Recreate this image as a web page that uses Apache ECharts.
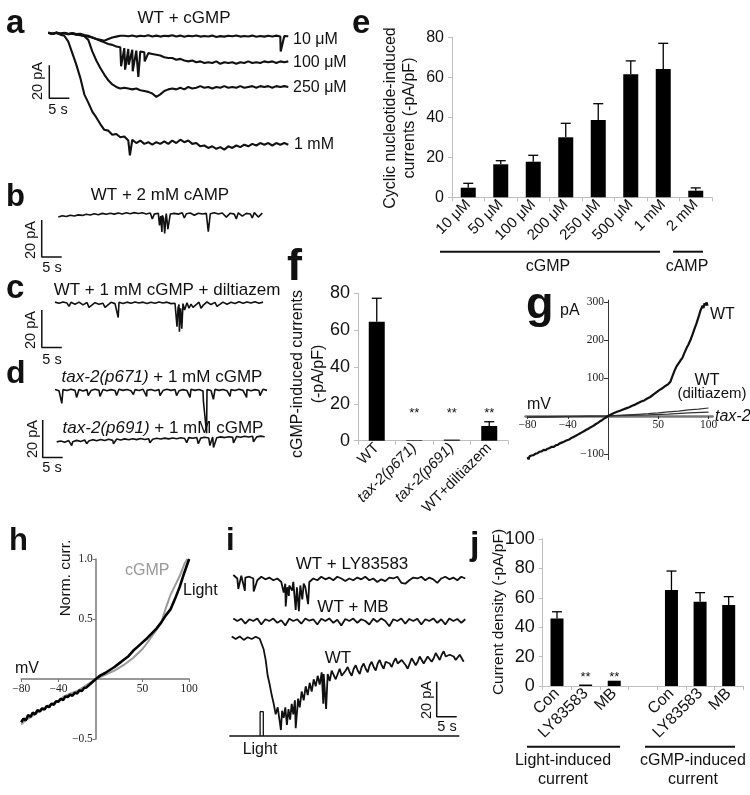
<!DOCTYPE html>
<html>
<head>
<meta charset="utf-8">
<title>cGMP / light-induced currents</title>
<script src="https://cdn.jsdelivr.net/npm/echarts@6/dist/echarts.min.js"></script>
<style>
  html, body { margin: 0; padding: 0; background: #fff; }
  #fig { width: 750px; height: 795px; }
</style>
</head>
<body>
<div id="fig"></div>
<script>
const SANS = '"Liberation Sans", Arial, sans-serif'
const SERIF = '"Liberation Serif", "Times New Roman", serif'

// ---- a: WT + cGMP, current (pA) sampled every 1 s ----
const a10uM = [0.3,-0.2,0.2,-0.4,0,-0.5,-0.3,-0.8,-1,-1.5, -2,-2.5,-3.5,-4,-4.5,-3.5,-2.5,-2,-1.5,-1.5,
  -1.8,-1.3,-2,-1.5,-1.8,-1.2,-1.9,-1.4,-2,-1.5, -1.7,-1.2,-1.9,-1.4,-2.1,-1.5,-1.8,-1.3,-2,-1.6,
  -1.9,-1.4,-2.2,-1.7,-2,-1.5,-1.8,-1.3,-2,-1.6, -1.9,-1.4,-2.1,-1.6,-2,-1.5,-1.9,-1.4,-2,-1.6,-1.8]
const a100uM = [0.2,-0.3,0.4,-0.2,0.3,-0.4,0.1,-0.5,-0.3,-1, -1.5,-2.5,-3.5,-4.5,-5.5,-6.5,-7,-8,-8.5,-9,
  -9.5,-10,-10.5,-11,-11.5,-12,-12.5,-13,-13.5,-14.5, -15,-15,-16,-15.5,-16.5,-17,-16.5,-17.5,-17,-18,
  -17.5,-18,-17,-18.5,-17.5,-18,-17.5,-18.5,-17.5,-18, -17,-18,-17.5,-18,-17,-17.5,-17,-18,-17,-17.5,-17]
const a250uM = [0.3,-0.4,0.5,-0.3,0.2,-0.5,0,-0.8,-1.2,-1.8, -4,-11,-16.5,-21,-25,-28.5,-31,-32.5,-33.5,-33,
  -33.5,-34,-33.5,-34.5,-35,-35.5,-36.5,-38.5,-37,-35, -34,-33.5,-34,-33,-34,-32.5,-33.5,-33,-32,-33,
  -32.5,-33.5,-32.5,-33,-32,-33,-32.5,-33,-32,-33, -32.5,-32,-33,-32,-32.5,-32,-33,-32,-32.5,-32,-32.5]
const a1mM = [0.5,-0.5,0.3,-0.8,-1.5,-5,-12,-19,-27,-37, -42,-47.5,-51,-55,-58.5,-59,-61.5,-61,-63,-62.5,
  -65,-64.5,-66.5,-65,-67,-66,-67.5,-66,-67,-65.5, -67,-65,-66.5,-64.5,-66,-65,-67,-66.5,-68.5,-68,
  -69.5,-68.5,-70,-69,-70.5,-68.5,-69.5,-68,-69,-67.5, -68.5,-67,-68,-66.5,-67.5,-66.5,-68,-66.5,-67.5,-66.5,-67.5]
const a10uMSpikes = [[58.1, -11]]
const a100uMSpikes = [[18.2, -20], [19.2, -22], [20.1, -19], [21.1, -23], [22.5, -26.5], [24.1, -17]]
const a1mMSpikes = [[20.4, -74]]

// ---- b: WT + 2 mM cAMP ----
const bTrace = [-1.5,-0.8,-1.2,-0.5,-0.9,-0.3,-0.6,0,-0.4,0.3, -0.2,0.5,0,0.6,0.1,0.7,0.2,0.8,0.3,0.9,
  0.4,0.8,0.2,0.7,0.1,0.6,-0.5,0.4,0.2,0.5, 0.1,0.8,0.3,0.7,-0.5,0.6,0.2,0.5,0.3,0.8,
  0.2,0.7,-1.5,0.6,0.1,0.8,-1,0.5,0.2,0.9, -1.5,0.6]
const bSpikes = [[23.5, -2.5], [25.3, -6], [25.6, -1], [25.9, -9.5], [26.3, -2], [26.6, -10.3], [26.9, -1],
  [27.4, -8], [31.5, -2], [37.5, -9.4], [44.5, -2.5], [48.5, -2]]

// ---- c: WT + 1 mM cGMP + diltiazem ----
const cTrace = [0.3,-0.3,0.4,-0.2,0.2,-0.8,0.3,-1.2,0.1,-1.5, 0,-0.8,-0.3,-1.5,0.2,-0.5,0.2,-0.4,0.3,-0.3,
  0.4,-0.2,0.3,-0.4,0.2,-0.3,0.4,-0.2,0.3,-0.5, -0.3,-1,-0.5,0,-0.8,-1.5,0.3,-1.5,0.4,-1,
  0.2,-1.5,0.3,-0.8,0.2,-0.4,0.5,-0.3,0.4,-0.2, 0.5,-0.3,0.3]
const cSpikes = [[3.5, -2], [8.5, -2.5], [12.5, -2.5], [15.8, -8], [30.5, -13], [30.75, -3], [31.1, -15.7],
  [31.4, -3], [31.7, -14], [32.4, -4], [33.5, -3], [34.5, -2.5], [36.5, -3], [40.5, -2]]

// ---- d: tax-2 mutants + 1 mM cGMP ----
const dP671 = [0.3,-0.4,0.2,-0.3,0.4,-0.2,0.3,-0.5,0.2,-0.3, 0.4,-0.2,0.3,-0.4,0.2,-0.3,0.4,-0.2,0.3,-0.4,
  0.2,-0.3,0.4,-0.2,0.3,-0.4,0.2,-0.3,0.4,-0.2, 0.3,-0.4,0.2,-0.3,0.4,-0.2,0.3,-0.5,0.2,-0.3,
  0.4,-0.2,0.3,-0.4,0.2,-0.3,0.4,-0.2,0.3,-0.4, 0.2,-0.3,0.4,-0.2]
const dP671Spikes = [[1.7, -7.2], [5.4, -4], [8.3, -3], [11.25, -3.5], [15.4, -3], [19.6, -2.5], [22.9, -3.5],
  [26.25, -3], [30.4, -3], [33.75, -4], [37.1, -6], [37.9, -23.4], [39.6, -5], [43.75, -3.5], [47.9, -4], [51.25, -3]]
const dP691 = [-1,-0.5,-1.2,-0.3,-0.9,-0.2,-0.8,0,-0.6,0.2, -0.4,0.3,-0.3,0.4,-0.2,0.5,0,0.6,0.1,0.7,
  0.2,0.8,0.3,0.7,0.4,0.9,0.5,1,0.6,1.1, 0.7,1.2,0.8,1.3,0.9,1.4,1,1.5,1.1,1.6,
  1.2,1.7,1.3,1.8,1.4,1.9,1.5,2,1.6,2, 1.7,2.1,1.8]
const dP691Spikes = [[3.75, -3], [7.5, -2], [14.2, -2], [23.3, -1.5], [32.5, -1.5], [35.4, -2], [38.3, -3],
  [39.2, -4], [44.2, -1.5], [49.2, -1]]

// ---- e: dose response (-pA/pF) ----
const eCats = ['10 μM', '50 μM', '100 μM', '200 μM', '250 μM', '500 μM', '1 mM', '2 mM']
const eMean = [4.8, 16.5, 17.8, 30, 38.7, 61.5, 64.2, 3.3]
const eErrTop = [7.0, 18.3, 21, 37, 46.8, 68.2, 77, 4.7]

// ---- f: genotypes (-pA/pF) ----
const fCats = ['WT', 'tax-2(p671)', 'tax-2(p691)', 'WT+diltiazem']
const fMean = [64.6, 0.3, 0.6, 8.0]
const fErrTop = [77.3, null, null, 10.3]
const fSig = [false, true, true, true]

// ---- g: I-V (mV, pA) ----
const gWT = [[-80,-108],[-79,-114],[-78,-106],[-77,-111],[-76,-104],[-75,-107],[-74,-103],[-72,-99],[-70,-98],
  [-68,-94],[-66,-93],[-64,-89],[-62,-90],[-60,-86],[-58,-84],[-56,-81],[-54,-81],[-52,-77],[-50,-76],
  [-48,-72],[-46,-70],[-44,-68],[-42,-65],[-40,-63],[-38,-61],[-36,-57],[-34,-55],[-32,-52],[-30,-49],
  [-28,-46],[-26,-43],[-24,-40],[-22,-37],[-20,-34],[-18,-31],[-16,-28],[-14,-25],[-12,-21],[-10,-18],
  [-8,-14],[-6,-11],[-4,-7],[-2,-4],[0,0],[3,4],[6,8],[9,11],[12,14],[15,17],[18,20],[21,23],[24,27],
  [27,30],[30,34],[33,38],[36,41],[39,46],[42,50],[45,56],[48,62],[51,68],[54,73],[57,79],[60,84],
  [62,90],[64,104],[66,118],[68,130],[70,138],[72,146],[74,153],[76,166],[78,178],[80,188],[82,200],
  [84,214],[86,229],[88,244],[90,260],[92,278],[94,290],[95,284],[96,297],[97,291],[98,299],[99,290]]
const gDiltiazem = [[-80,-4],[-60,-3],[-40,-2],[-20,-1],[0,0],[10,1.5],[20,3],[30,4.5],[40,6],[50,8],
  [60,11],[70,13],[80,16],[90,18],[100,21]]
const gTax2 = [[-80,-2],[-60,-1.5],[-40,-1],[-20,-0.5],[0,0],[20,1.5],[40,3],[60,5],[80,8],[100,10]]
const gXTicks = [-80, -40, 50, 100]
const gYTicks = [-100, 100, 200, 300]

// ---- h: normalised I-V ----
const hLight = [[-80,-0.36],[-77.5,-0.33],[-75,-0.345],[-72.5,-0.3],[-70,-0.315],[-67.5,-0.28],[-65,-0.295],
  [-62.5,-0.26],[-60,-0.27],[-57.5,-0.245],[-55,-0.255],[-52.5,-0.225],[-50,-0.235],[-47.5,-0.205],
  [-45,-0.215],[-42.5,-0.185],[-40,-0.19],[-37.5,-0.165],[-35,-0.175],[-32.5,-0.145],[-30,-0.15],
  [-27.5,-0.13],[-25,-0.14],[-22.5,-0.115],[-20,-0.12],[-17.5,-0.095],[-15,-0.1],[-12.5,-0.075],
  [-10,-0.07],[-5,-0.035],[0,0],[5,0.03],[10,0.05],[15,0.075],[20,0.1],[25,0.13],[30,0.16],[35,0.19],
  [40,0.235],[45,0.27],[50,0.305],[55,0.34],[60,0.38],[65,0.42],[70,0.47],[75,0.53],[80,0.58],
  [85,0.67],[90,0.77],[95,0.89],[100,1.0]]
const hCGMP = [[-80,-0.38],[-75,-0.34],[-70,-0.32],[-65,-0.29],[-60,-0.27],[-55,-0.24],[-50,-0.22],
  [-45,-0.2],[-40,-0.18],[-35,-0.15],[-30,-0.13],[-25,-0.115],[-20,-0.1],[-15,-0.075],[-10,-0.05],
  [-5,-0.025],[0,0],[10,0.035],[20,0.07],[30,0.117],[40,0.175],[50,0.25],[55,0.3],[60,0.355],
  [65,0.41],[70,0.47],[75,0.59],[80,0.7],[85,0.78],[90,0.86],[95,0.96],[98,1.0]]
const hXTicks = [-80, -40, 50, 100]
const hYTicks = [-0.5, 0.5, 1.0]

// ---- i: light responses, pA every 1 s ----
const iLY = [1,-1,0.5,-0.5,0,-1,-2,0,-1.5,-0.5, -2,-1,-3,-4,-5,-3,-6,-4,-6,-3,
  -1,-2,0,-1.5,-0.5,-2,0,-1,-2.5,-1, -2,-0.5,-1.5,0,-2,-1,-3,-1.5,-2.5,-0.5,
  -1,0,-3.5,-4,-2,-0.5,-1,0,-2,-0.5, -1.5,-3.5,-1,0,-1.5,-0.5,-2,0,-1]
const iLYSpikes = [[1.25,-7],[2.9,-8],[5.1,-8.5],[12.6,-9],[13.1,-17],[13.5,-6],[13.9,-11],[14.3,-5],[14.7,-8],
  [15.25,-3],[15.6,-19],[15.9,-6],[16.4,-19.7],[16.75,-5],[17.25,-13],[17.6,-4],[18.4,-7],[18.7,-15.7],[19.1,-3]]
const iMB = [0.5,-1,0.3,-2.5,0,-1,0.5,-3,0,-1, 0.4,-2,-0.5,-3.5,0.3,-1,0,-2.5,0.5,-0.8,
  0,-3,0.3,-1,0.5,-2,-0.3,-3.5,0.2,-1, 0.4,-2,0,-1,-3,0.3,-1.5,0.5,-1,-4,
  0,-1,0.5,-2.5,0.2,-1,0.3,-3,0,-1, 0.5,-2,0,-3,0.4,-1,0.2,-2,0]
const iWT = [0.5,-1,0.5,-1.5,0,-1,0.3,-0.8,-7,-22, -33,-44,-48,-46,-50,-38,-52,-40,-36,-33,
  -31,-28,-27,-21,-21,-19,-24,-18,-23,-17, -22,-16,-21,-15,-20,-14,-19,-13,-18,-13,
  -17,-12,-16,-14,-18,-12,-16,-11,-15,-11, -14,-9,-13,-8,-12,-9,-13,-10,-14]
const iWTExtra = [[7.5,0],[8.5,-13],[9.5,-27],[10.5,-38],[11.5,-40],[12.3,-53],[12.6,-42],[13.4,-40],[13.8,-50],
  [14.2,-41],[14.6,-47],[15.4,-44],[15.8,-36],[16.2,-52],[16.6,-35],[17.5,-31],[18.5,-28],[19.5,-26],
  [20.5,-24],[21.5,-22],[22.5,-20],[22.9,-38],[23.2,-22],[23.6,-41],[24.5,-25],[25.5,-20],[26.5,-21],
  [27.5,-22],[28.5,-19],[29.5,-20],[30.5,-18],[31.5,-19],[32.5,-17],[33.5,-18],[34.5,-16],[35.5,-17],
  [36.5,-15],[37.5,-16],[38.5,-14],[39.5,-15],[40.5,-14],[41.5,-15],[42.5,-13],[43.5,-16],[44.5,-15],
  [45.5,-13],[46.5,-14],[47.5,-12],[48.5,-13],[49.5,-12],[50.5,-12],[51.5,-11],[52.5,-10],[53.5,-11],
  [54.5,-10],[55.5,-11],[56.5,-12],[57.5,-11]]
const iLightOn = [7.1, 7.9]   // s

// ---- j: light vs cGMP (-pA/pF) ----
const jCats = ['Con', 'LY83583', 'MB', '', 'Con', 'LY83583', 'MB']
const jMean = [46, 1, 3.6, null, 65.3, 57.3, 55.1]
const jErrTop = [50.5, null, null, null, 78.2, 63.5, 60.8]
const jSig = [false, true, true, false, false, false, false]

// ---------------------------------------------------------------
const chart = echarts.init(document.getElementById('fig'), null, { renderer: 'canvas' })

const grids = [], xAxes = [], yAxes = [], series = [], graphics = []

function addGrid(box, x, y) {
  const i = grids.length
  grids.push(Object.assign({ containLabel: false, outerBoundsMode: 'none' }, box))
  xAxes.push(Object.assign({ gridIndex: i }, x))
  yAxes.push(Object.assign({ gridIndex: i }, y))
  return i
}

// hidden axes; x0,y0 = pixel of t=0, I=0
function traceGrid(x0, y0, tr, pr, pxs, pxa) {
  return addGrid(
    { left: x0 + tr[0] * pxs, top: y0 - pr[1] * pxa, width: (tr[1] - tr[0]) * pxs, height: (pr[1] - pr[0]) * pxa },
    { type: 'value', min: tr[0], max: tr[1], show: false },
    { type: 'value', min: pr[0], max: pr[1], show: false }
  )
}

function stepPairs(vals, extra) {
  return vals.map((v, i) => [i, v]).concat(extra || []).sort((p, q) => p[0] - q[0])
}

function line(idx, data, o = {}) {
  series.push({
    type: 'line', xAxisIndex: idx, yAxisIndex: idx, data, symbol: 'none', silent: true, animation: false,
    lineStyle: { color: o.color || '#111', width: o.width || 1.6 }, z: o.z || 3,
  })
}

function txt(text, x, y, o = {}) {
  const al = o.align || 'left', va = o.va || 'middle'
  graphics.push({
    type: 'text', x, y, rotation: o.rot || 0, silent: true, z: 20,
    style: {
      text, x: 0, y: 0, fill: o.color || '#111',
      fontSize: o.size || 16, fontFamily: o.family || SANS,
      fontWeight: o.bold ? 'bold' : 'normal', fontStyle: o.italic ? 'italic' : 'normal',
      align: al, verticalAlign: va, textAlign: al, textVerticalAlign: va,
      lineHeight: o.lh, rich: o.rich,
    },
  })
}

// bold panel letter; y = baseline
function letter(ch, x, y, size) {
  txt(ch, x, y + 0.1535 * size, { size, bold: true, va: 'bottom' })
}

function hline(x1, x2, y, w = 2) {
  graphics.push({ type: 'line', silent: true, z: 20, shape: { x1, y1: y, x2, y2: y }, style: { stroke: '#111', lineWidth: w } })
}

const italicRich = size => ({ i: { fontStyle: 'italic', fontSize: size, fontFamily: SANS, color: '#111', fill: '#111' } })

function errorBar(params, api) {
  const base = api.coord([api.value(0), api.value(1)])
  const top = api.coord([api.value(0), api.value(2)])
  const s = { stroke: '#000', lineWidth: 1.3 }
  return {
    type: 'group', children: [
      { type: 'line', shape: { x1: top[0], y1: base[1], x2: top[0], y2: top[1] }, style: s },
      { type: 'line', shape: { x1: top[0] - 5, y1: top[1], x2: top[0] + 5, y2: top[1] }, style: s },
    ],
  }
}

function starItem(params, api) {
  const p = api.coord([api.value(0), api.value(1)])
  return {
    type: 'text', x: p[0], y: p[1],
    style: { text: '**', fill: '#111', fontSize: 13, fontFamily: SANS, align: 'center', verticalAlign: 'top' },
  }
}

function barPanel(box, cats, mean, errTop, sig, o) {
  const grey = '#bdbdbd'
  const idx = addGrid(box,
    {
      type: 'category', data: cats,
      axisLine: { lineStyle: { color: grey } },
      axisTick: { show: true, length: 4, lineStyle: { color: grey } },
      axisLabel: { interval: 0, rotate: 45, fontSize: o.xFont, color: '#111', fontFamily: SANS, margin: 5,
        formatter: o.fmt, rich: o.rich },
    },
    {
      type: 'value', min: 0, max: o.max, interval: 20,
      axisLine: { show: true, lineStyle: { color: grey } },
      axisTick: { show: true, length: 4, lineStyle: { color: grey } },
      splitLine: { show: false },
      axisLabel: { fontSize: o.yFont, color: '#111', fontFamily: SANS, margin: 8 },
    })
  series.push({ type: 'bar', xAxisIndex: idx, yAxisIndex: idx, data: mean, barWidth: o.barWidth,
    itemStyle: { color: '#000' }, silent: true, animation: false })
  series.push({ type: 'custom', xAxisIndex: idx, yAxisIndex: idx, renderItem: errorBar, silent: true, animation: false, z: 4,
    data: mean.map((m, i) => [i, m, errTop[i]]).filter(d => d[2] != null) })
  series.push({ type: 'custom', xAxisIndex: idx, yAxisIndex: idx, renderItem: starItem, silent: true, animation: false, z: 4,
    data: sig.map((s, i) => [i, o.starAt, s]).filter(d => d[2]).map(d => [d[0], d[1]]) })
  return idx
}

const minus = v => (Number(v) < 0 ? '\u2212' + String(v).replace('-', '') : String(v))

// ---- a ----
let g = traceGrid(48.3, 33.3, [-1, 61], [-76, 4], 4, 1.65)
line(g, stepPairs(a10uM, a10uMSpikes), { width: 2.1 })
line(g, stepPairs(a100uM, a100uMSpikes), { width: 2.1 })
line(g, stepPairs(a250uM), { width: 2.1 })
line(g, stepPairs(a1mM, a1mMSpikes), { width: 2.1 })
line(g, [[0.25, -19.4], [0.25, -39.4], [5.25, -39.4]], { width: 1.5 })
letter('a', 6, 35, 33)
txt('WT + cGMP', 184, 18, { size: 17, align: 'center' })
txt('10 μM', 293, 40)
txt('100 μM', 293, 63)
txt('250 μM', 293, 88)
txt('1 mM', 294, 145)
txt('20 pA', 38, 81, { size: 14.5, align: 'center', rot: Math.PI / 2 })
txt('5 s', 58, 110, { size: 14.5, align: 'center' })

// ---- b ----
g = traceGrid(58.3, 214.3, [-6, 53], [-26, 4], 4, 1.85)
line(g, stepPairs(bTrace, bSpikes))
line(g, [[-4.15, -3.1], [-4.15, -23.1], [0.85, -23.1]], { width: 1.5 })
letter('b', 6, 208, 31)
txt('WT + 2 mM cAMP', 160, 195, { align: 'center', size: 17 })
txt('20 pA', 31, 240, { size: 14.5, align: 'center', rot: Math.PI / 2 })
txt('5 s', 52, 268, { size: 14.5, align: 'center' })

// ---- c ----
g = traceGrid(55, 302.7, [-5, 53], [-26, 4], 4, 1.85)
line(g, stepPairs(cTrace, cSpikes))
line(g, [[-3.3, -4], [-3.3, -24.2], [1.7, -24.2]], { width: 1.5 })
letter('c', 6, 300, 33)
txt('WT + 1 mM cGMP + diltiazem', 167, 290, { align: 'center', size: 17 })
txt('20 pA', 31, 330, { size: 14.5, align: 'center', rot: Math.PI / 2 })
txt('5 s', 52, 360, { size: 14.5, align: 'center' })

// ---- d ----
g = traceGrid(55, 390, [-1, 54], [-25, 4], 4, 1.85)
line(g, stepPairs(dP671, dP671Spikes))
g = traceGrid(56.7, 440, [-5, 54], [-12, 12], 4, 1.85)
line(g, stepPairs(dP691, dP691Spikes))
line(g, [[-3.5, 10.8], [-3.5, -9.4], [1.5, -9.4]], { width: 1.5 })
letter('d', 6, 385, 32)
txt('{i|tax-2(p671)} + 1 mM cGMP', 162, 377, { align: 'center', size: 17, rich: italicRich(17) })
txt('{i|tax-2(p691)} + 1 mM cGMP', 163, 428, { align: 'center', size: 17, rich: italicRich(17) })
txt('20 pA', 32.5, 439, { size: 14.5, align: 'center', rot: Math.PI / 2 })
txt('5 s', 52, 468, { size: 14.5, align: 'center' })

// ---- e ----
barPanel({ left: 452, top: 37.3, width: 260, height: 160 }, eCats, eMean, eErrTop, eCats.map(() => false),
  { max: 80, barWidth: 15, xFont: 15, yFont: 16, starAt: 0 })
letter('e', 352, 35, 33)
txt('Cyclic nucleotide-induced\ncurrents (-pA/pF)', 400, 118, { align: 'center', rot: Math.PI / 2, lh: 19 })
hline(440, 660, 251.7)
hline(673, 703, 251.7)
txt('cGMP', 548, 267, { align: 'center' })
txt('cAMP', 687, 267, { align: 'center' })

// ---- f ----
barPanel({ left: 358, top: 293.3, width: 150, height: 147.4 }, fCats, fMean, fErrTop, fSig,
  { max: 80, barWidth: 16, xFont: 15, yFont: 18, starAt: 18.5,
    fmt: v => (v.indexOf('tax') === 0 ? '{i|' + v + '}' : v), rich: italicRich(15) })
letter('f', 287, 283, 45)
txt('cGMP-induced currents\n(-pA/pF)', 308, 374, { align: 'center', rot: Math.PI / 2, lh: 21 })

// ---- g ---- (axes crossing at 0 via negative offsets)
const gPxV = 1.0056, gPxI = 0.38
g = addGrid(
  { left: 608 - 82 * gPxV, top: 416 - 305 * gPxI, width: 186 * gPxV, height: 420 * gPxI },
  {
    type: 'value', min: -82, max: 104, splitLine: { show: false }, position: 'bottom', offset: -115 * gPxI,
    axisLine: { onZero: false, lineStyle: { color: '#777', width: 2.5 } },
    axisTick: { show: true, customValues: gXTicks, length: 3, lineStyle: { color: '#333' } },
    axisLabel: { customValues: gXTicks, formatter: minus, fontFamily: SERIF, fontSize: 11.5, color: '#222', margin: 3 },
  },
  {
    type: 'value', min: -115, max: 305, splitLine: { show: false }, position: 'left', offset: -82 * gPxV,
    axisLine: { onZero: false, lineStyle: { color: '#333', width: 1 } },
    axisTick: { show: true, customValues: gYTicks, length: 4, lineStyle: { color: '#333' } },
    axisLabel: { customValues: gYTicks, formatter: minus, fontFamily: SERIF, fontSize: 11.5, color: '#222', margin: 4 },
  })
line(g, gDiltiazem, { color: '#333', width: 1.2 })
line(g, gTax2, { color: '#333', width: 1.2 })
line(g, gWT, { color: '#111', width: 2.2 })
letter('g', 526, 321, 45)
txt('pA', 560, 311)
txt('mV', 527, 405)
txt('WT', 710, 315)
txt('WT', 707, 381, { align: 'center' })
txt('(diltiazem)', 712, 394, { align: 'center', size: 15 })
txt('tax-2', 715, 417, { italic: true })

// ---- h ----
const hPxV = 168 / 180, hPxN = 120
g = addGrid(
  { left: 95.8 - 80 * hPxV, top: 679 - 1.0 * hPxN, width: 180 * hPxV, height: 1.5 * hPxN },
  {
    type: 'value', min: -80, max: 100, splitLine: { show: false }, position: 'bottom', offset: -0.5 * hPxN,
    axisLine: { onZero: false, lineStyle: { color: '#777', width: 1.5 } },
    axisTick: { show: true, customValues: hXTicks, length: 3, lineStyle: { color: '#777' } },
    axisLabel: { customValues: hXTicks, formatter: minus, fontFamily: SERIF, fontSize: 11.5, color: '#222', margin: 4 },
  },
  {
    type: 'value', min: -0.5, max: 1.0, splitLine: { show: false }, position: 'left', offset: -80 * hPxV,
    axisLine: { onZero: false, lineStyle: { color: '#777', width: 1.5 } },
    axisTick: { show: true, customValues: hYTicks, length: 3, lineStyle: { color: '#777' } },
    axisLabel: { customValues: hYTicks, formatter: v => minus(Number(v).toFixed(1)), fontFamily: SERIF, fontSize: 11.5, color: '#222', margin: 3 },
  })
line(g, hCGMP, { color: '#9a9a9a', width: 2 })
line(g, hLight, { color: '#000', width: 2.6 })
letter('h', 9, 552, 31)
txt('Norm. curr.', 66, 578, { align: 'center', rot: Math.PI / 2, size: 15.5 })
txt('cGMP', 125, 571, { color: '#999' })
txt('Light', 183, 591)
txt('mV', 15, 669)

// ---- i ----
g = traceGrid(233.3, 576.7, [-1, 59], [-22, 5], 4, 1.75)
line(g, stepPairs(iLY, iLYSpikes), { width: 1.8 })
g = traceGrid(233.3, 619.3, [-1, 59], [-6, 4], 4, 1.75)
line(g, stepPairs(iMB), { width: 1.8 })
g = traceGrid(231.7, 637.3, [-1, 59], [-58, 3], 4, 1.75)
line(g, stepPairs(iWT, iWTExtra), { width: 1.8 })
line(g, [[-0.6, -56.4], [56.9, -56.4]], { width: 1.5 })
line(g, [[iLightOn[0], -56.4], [iLightOn[0], -42.5], [iLightOn[1], -42.5], [iLightOn[1], -56.4]], { width: 1.3 })
line(g, [[51.25, -25.4], [51.25, -45.4], [56.25, -45.4]], { width: 1.5 })
letter('i', 226, 552, 31)
txt('WT + LY83583', 352, 564, { align: 'center', size: 17 })
txt('WT + MB', 353, 607, { align: 'center', size: 17 })
txt('WT', 338, 658, { align: 'center', size: 17 })
txt('Light', 260, 750, { align: 'center' })
txt('20 pA', 427, 700, { size: 14.5, align: 'center', rot: Math.PI / 2 })
txt('5 s', 447, 727, { size: 14.5, align: 'center' })

// ---- j ----
barPanel({ left: 542.7, top: 539, width: 200.3, height: 147 }, jCats, jMean, jErrTop, jSig,
  { max: 100, barWidth: 13, xFont: 16, yFont: 18, starAt: 10.5 })
letter('j', 470, 557, 34)
txt('Current density (-pA/pF)', 499, 612, { align: 'center', rot: Math.PI / 2, size: 15.5 })
hline(527, 620, 746.7)
hline(645, 735, 746.7)
txt('Light-induced', 563, 761, { align: 'center' })
txt('current', 563, 780, { align: 'center' })
txt('cGMP-induced', 693, 761, { align: 'center' })
txt('current', 693, 780, { align: 'center' })

chart.setOption({
  backgroundColor: '#ffffff',
  animation: false,
  grid: grids,
  xAxis: xAxes,
  yAxis: yAxes,
  series,
  graphic: { elements: graphics },
})
</script>
</body>
</html>
